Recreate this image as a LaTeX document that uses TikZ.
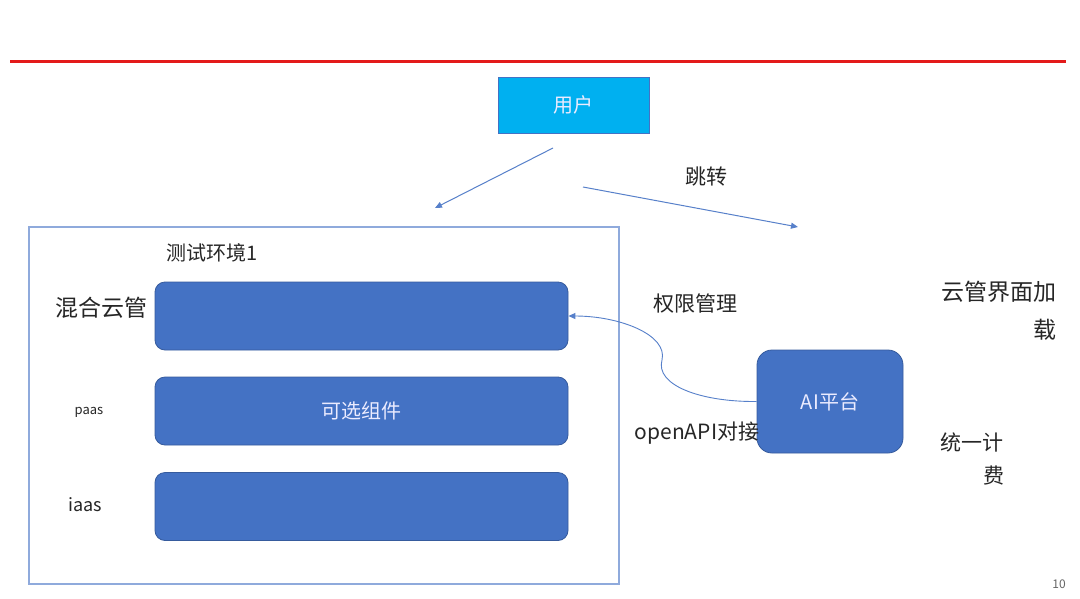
\documentclass[tikz,border=0pt]{standalone}
\usepackage{fontspec}
\setmainfont{Noto Sans CJK SC}
\usetikzlibrary{arrows.meta}
\definecolor{bluefill}{HTML}{4472C4}
\definecolor{cyanfill}{HTML}{00B0F0}
\definecolor{frameblue}{HTML}{8FAADC}
\definecolor{redline}{HTML}{E31A1A}
\tikzset{
  x=1pt,y=-1pt,
  layer/.style={draw=bluefill!80!black,fill=bluefill,rounded corners=10pt,line width=0.8pt},
  conn/.style={draw=bluefill!90,line width=1pt,-{Triangle[length=7pt,width=6pt]}},
  lbl/.style={inner sep=0pt,font=\fontsize{21}{24}\selectfont,text=black!85},
  wlbl/.style={inner sep=0pt,font=\fontsize{20}{24}\selectfont,text=white!92!blue}
}
\begin{document}
\begin{tikzpicture}
\useasboundingbox (0,0) rectangle (1080,598);
\fill[white] (0,0) rectangle (1080,598);
\draw[redline,line width=3pt] (10,61) -- (1066,61);
% user
\node[draw=bluefill,fill=cyanfill,line width=1pt,minimum width=151pt,minimum height=56pt,inner sep=0pt] (user) at (573.5,105) {};
\node[wlbl] (usert) at (user) {用户};
\coordinate (u1) at (553,148);
\coordinate (u2) at (435,208);
\coordinate (u3) at (583,187);
\coordinate (u4) at (798,227);
\draw[conn] (u1) -- (u2);
\draw[conn] (u3) -- (u4);
\node[lbl] (jump) at (706,177) {跳转};
% frame
\draw[frameblue,line width=1.2pt] (29,227) rectangle (619,584);
\node[lbl,font=\fontsize{20}{24}\selectfont] (env) at (212,253) {测试环境1};
\node[layer,minimum width=413pt,minimum height=68pt] (l1) at (361.5,316) {};
\node[layer,minimum width=413pt,minimum height=68pt] (l2) at (361.5,411) {};
\node[layer,minimum width=413pt,minimum height=68pt] (l3) at (361.5,506.5) {};
\node[wlbl] (l2t) at (l2) {可选组件};
\node[lbl,font=\fontsize{23}{26}\selectfont] (mix) at (101,308) {混合云管};
\node[lbl,font=\fontsize{13}{15}\selectfont] (paas) at (89,412) {paas};
\node[lbl,font=\fontsize{18}{20}\selectfont] (iaas) at (85,505) {iaas};
% AI
\node[layer,rounded corners=15pt,minimum width=146pt,minimum height=103pt] (ai) at (830,401.5) {};
\node[wlbl] (ait) at (ai) {AI平台};
\draw[conn,line width=0.9pt] (ai.west) .. controls (700,402) and (655,385) .. (662,360)
  .. controls (668,335) and (620,316) .. (l1.east);
\node[lbl] (perm) at (695,304) {权限管理};
\node[lbl] (oapi) at (697,433) {openAPI对接};
\node[lbl,font=\fontsize{23}{26}\selectfont,anchor=east] (c1) at (1057,292) {云管界面加};
\node[lbl,font=\fontsize{23}{26}\selectfont,anchor=east] (c2) at (1057,330) {载};
\node[lbl,anchor=west] (b1) at (940,442) {统一计};
\node[lbl,anchor=east] (b2) at (1005,476) {费};
\node[inner sep=0pt,font=\fontsize{12}{14}\selectfont,text=black!60] (pg) at (1059,584) {10};
\end{tikzpicture}
\end{document}
